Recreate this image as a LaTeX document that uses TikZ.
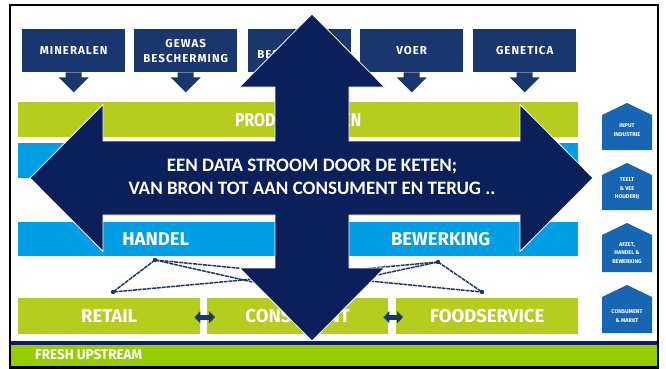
\documentclass[tikz,border=0pt]{standalone}
\usepackage{fontspec}
\usepackage{graphicx}
\setmainfont{Carlito}
\newfontfamily\boxfont[LetterSpace=9]{Fira Sans}
\newfontfamily\barfont{Fira Sans}
\usetikzlibrary{calc,arrows.meta}
\definecolor{navy}{HTML}{19376E}
\definecolor{deepnavy}{HTML}{0B1F5B}
\definecolor{lime}{HTML}{B4CD1E}
\definecolor{sky}{HTML}{009FE3}
\definecolor{midblue}{HTML}{1666B3}
\definecolor{footgreen}{HTML}{99CC00}
\begin{document}
\begin{tikzpicture}[x=1pt,y=-1pt,
  inbox/.style={fill=navy, text=white, font=\boxfont\bfseries\fontsize{11.5}{15}\selectfont,
    align=center, inner sep=0pt, minimum width=103pt, minimum height=43pt, anchor=north west},
  bar/.style={text=white, font=\barfont\bfseries\fontsize{18.5}{20}\selectfont,
    inner sep=0pt, minimum height=35pt, anchor=north west},
  conn/.style={draw=navy, line width=1.5pt, dash pattern=on 4pt off 0.8pt},
  enddot/.style={fill=navy},
  pentext/.style={text=white, font=\barfont\bfseries\fontsize{5.5}{8.5}\selectfont, align=center, inner sep=0pt},
  dblarrow/.style={draw=navy, line width=5pt, {Triangle[length=6pt,width=12pt]}-{Triangle[length=6pt,width=12pt]}}
]
\useasboundingbox (0,0) rectangle (666,369);
\fill[white] (0,0) rectangle (666,369);

% top input boxes
\node[inbox] (mineralen) at (22,29) {MINERALEN};
\node[inbox] (gewas) at (134,29) {GEWAS\\BESCHERMING};
\node[inbox] (third) at (248,29) {\mbox{}\\BESCHERMING};
\node[inbox] (voer) at (360,29) {VOER};
\node[inbox] (genetica) at (473,29) {GENETICA};
\foreach \n in {mineralen,gewas,third,voer,genetica}{
  \fill[navy] ($(\n.south)+(-8,0)$) -- ++(16,0) -- ++(0,5) -- ++(7,0) -- ++(-15,15) -- ++(-15,-15) -- ++(7,0) -- cycle;
}

% bars
\node[bar, fill=lime, minimum width=560pt] (productie) at (18,102) {\scalebox{0.85}[1]{PRODUCTIEKETEN}};
\node[bar, fill=sky, minimum width=560pt] (teelt) at (18,143) {};
\node[bar, fill=sky, minimum width=275pt, minimum height=34pt] (handel) at (18,222) {HANDEL};
\node[bar, fill=sky, minimum width=275pt, minimum height=34pt] (bewerking) at (303,222) {BEWERKING};
\node[bar, fill=lime, minimum width=182pt, minimum height=36pt] (retail) at (18,298) {RETAIL};
\node[bar, fill=lime, minimum width=181pt, minimum height=36pt] (consument) at (207,298) {CONSUMENT};
\node[bar, fill=lime, minimum width=182pt, minimum height=36pt] (foodservice) at (396,298) {FOODSERVICE};

% double arrows between bottom bars
\draw[dblarrow] ($(retail.east)+(-6,1)$) -- ($(consument.west)+(8,1)$);
\draw[dblarrow] ($(consument.east)+(-5,1)$) -- ($(foodservice.west)+(7,1)$);

% connector end points
\coordinate (hp) at (155,260);
\coordinate (bp) at (438,262);
\coordinate (rp) at (113,292);
\coordinate (cp) at (297,292);
\coordinate (fp) at (482,292);
\draw[conn] (hp) -- (rp);
\draw[conn] (hp) -- (cp);
\draw[conn] (hp) -- (fp);
\draw[conn] (bp) -- (rp);
\draw[conn] (bp) -- (cp);
\draw[conn] (bp) -- (fp);
\foreach \p in {hp,bp,rp,cp,fp}{\fill[enddot] (\p) circle (2.2pt);}

% big four-way arrow
\fill[deepnavy, draw=white, line width=0.8pt]
  (312,14) -- (384.5,87) -- (349,87) -- (349,141) -- (520,141) -- (520,104.5) -- (593,178)
  -- (520,251.5) -- (520,215) -- (349,215) -- (349,268) -- (384.5,268) -- (312,341)
  -- (239.5,268) -- (275,268) -- (275,215) -- (103,215) -- (103,251.5) -- (30,178)
  -- (103,104.5) -- (103,141) -- (275,141) -- (275,87) -- (239.5,87) -- cycle;
\node[text=white, font=\bfseries\fontsize{19}{23}\selectfont, align=center] (msg) at (312,176.5)
  {EEN DATA STROOM DOOR DE KETEN;\\VAN BRON TOT AAN CONSUMENT EN TERUG ..};

% right-hand chain labels
\fill[midblue] (602,115) -- (627,103) -- (652,115) -- (652,150) -- (602,150) -- cycle;
\node[pentext] (p1) at (627,130) {INPUT\\INDUSTRIE};
\fill[midblue] (602,175) -- (627,163) -- (652,175) -- (652,210) -- (602,210) -- cycle;
\node[pentext] (p2) at (627,189) {TEELT\\\& VEE\\HOUDERIJ};
\fill[midblue] (602,235) -- (627,223) -- (652,235) -- (652,272) -- (602,272) -- cycle;
\node[pentext] (p3) at (627,253) {AFZET,\\HANDEL \&\\BEWERKING};
\fill[midblue] (602,297) -- (627,285) -- (652,297) -- (652,333) -- (602,333) -- cycle;
\node[pentext] (p4) at (627,316) {CONSUMENT\\\& MARKT};

% footer
\fill[deepnavy] (11,341) rectangle (657,345);
\fill[footgreen] (11,345) rectangle (657,366.5);
\node[text=white, inner sep=0pt, anchor=west] (logo) at (35,355)
  {\resizebox{107pt}{10pt}{\barfont\bfseries FRESH UPSTREAM}};

% frame
\draw[line width=2.5pt] (10,5) rectangle (658,367.5);
\end{tikzpicture}
\end{document}
